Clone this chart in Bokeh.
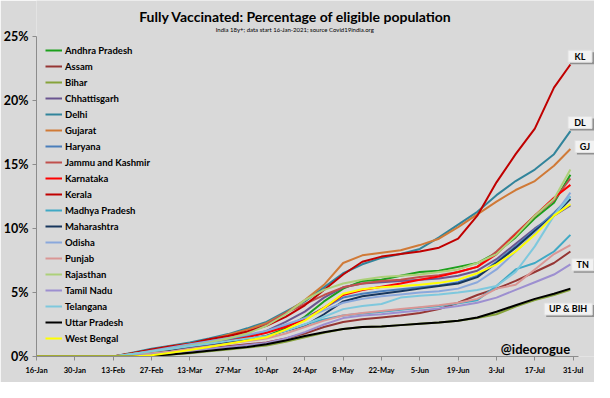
from bokeh.plotting import figure
from bokeh.models import Range1d, FixedTicker, Label
from bokeh.embed import file_html
from bokeh.resources import INLINE

# days since 16-Jan-2021
days = [0, 28, 35, 42, 49, 56, 63, 70, 77, 84, 91, 98, 105, 112, 119, 126,
        133, 140, 147, 154, 161, 168, 175, 182, 189, 195]

tick_days = [0, 14, 28, 42, 56, 70, 84, 98, 112, 126, 140, 154, 168, 182, 196]
tick_labels = ["16-Jan", "30-Jan", "13-Feb", "27-Feb", "13-Mar", "27-Mar", "10-Apr",
               "24-Apr", "8-May", "22-May", "5-Jun", "19-Jun", "3-Jul", "17-Jul", "31-Jul"]

y_ticks = [0, 5, 10, 15, 20, 25]
y_labels = ["0%", "5%", "10%", "15%", "20%", "25%"]

andhra = [0, 0, 0.1, 0.3, 0.5, 0.7, 0.9, 1.1, 1.35, 1.6, 2.2, 3.1, 4.3, 5.3, 5.9, 6.0, 6.3, 6.6, 6.7, 7.0, 7.3, 8.1, 9.3, 10.8, 12.0, 14.2]
assam = [0, 0, 0.1, 0.2, 0.35, 0.5, 0.65, 0.8, 0.95, 1.1, 1.4, 1.8, 2.3, 2.7, 2.9, 3.05, 3.2, 3.4, 3.7, 4.2, 4.8, 5.3, 5.9, 6.6, 7.3, 8.2]
bihar = [0, 0, 0.0, 0.05, 0.15, 0.25, 0.4, 0.55, 0.7, 0.85, 1.15, 1.5, 1.85, 2.15, 2.3, 2.35, 2.45, 2.55, 2.65, 2.8, 3.0, 3.3, 3.9, 4.4, 4.8, 5.2]
chhattisgarh = [0, 0, 0.1, 0.3, 0.5, 0.7, 0.95, 1.2, 1.55, 2.0, 2.7, 3.5, 4.6, 5.4, 5.7, 5.8, 5.9, 6.0, 6.1, 6.3, 6.7, 7.6, 8.8, 10.0, 11.0, 11.8]
delhi = [0, 0, 0.3, 0.6, 0.85, 1.1, 1.4, 1.75, 2.2, 2.7, 3.5, 4.3, 5.4, 6.5, 7.2, 7.7, 8.0, 8.4, 9.3, 10.3, 11.3, 12.6, 13.7, 14.6, 15.8, 17.6]
gujarat = [0, 0, 0.25, 0.5, 0.8, 1.0, 1.3, 1.7, 2.1, 2.6, 3.4, 4.4, 5.6, 7.3, 7.9, 8.1, 8.3, 8.7, 9.2, 10.1, 11.1, 12.1, 13.0, 13.7, 14.9, 16.2]
haryana = [0, 0, 0.15, 0.35, 0.55, 0.8, 1.0, 1.3, 1.6, 1.9, 2.4, 3.0, 3.8, 4.6, 4.9, 5.1, 5.25, 5.4, 5.55, 5.8, 6.3, 7.4, 8.6, 9.9, 11.2, 12.5]
jammu_kashmir = [0, 0, 0.2, 0.45, 0.7, 0.95, 1.2, 1.5, 1.9, 2.5, 3.4, 4.1, 4.8, 5.4, 5.7, 5.9, 6.0, 6.2, 6.35, 6.6, 7.0, 8.2, 9.6, 11.0, 12.2, 13.9]
karnataka = [0, 0, 0.15, 0.35, 0.55, 0.75, 0.95, 1.2, 1.5, 1.85, 2.3, 2.9, 3.8, 4.8, 5.2, 5.45, 5.7, 6.0, 6.25, 6.6, 7.0, 8.0, 9.5, 11.0, 12.4, 13.4]
kerala = [0, 0, 0.25, 0.55, 0.8, 1.0, 1.35, 1.6, 1.95, 2.4, 3.1, 4.0, 5.2, 6.4, 7.4, 7.8, 8.0, 8.2, 8.5, 9.2, 11.0, 13.6, 15.8, 17.8, 21.0, 22.8]
madhya_pradesh = [0, 0, 0.15, 0.35, 0.55, 0.75, 0.95, 1.15, 1.35, 1.55, 2.0, 2.5, 2.9, 3.2, 3.35, 3.5, 3.65, 3.8, 3.95, 4.15, 4.4, 5.5, 6.8, 7.3, 8.2, 9.5]
maharashtra = [0, 0, 0.1, 0.3, 0.5, 0.7, 0.9, 1.1, 1.35, 1.6, 2.0, 2.4, 3.3, 4.3, 4.7, 4.9, 5.1, 5.3, 5.5, 5.7, 6.2, 7.3, 8.5, 9.8, 11.0, 12.3]
odisha = [0, 0, 0.2, 0.45, 0.7, 0.95, 1.2, 1.45, 1.7, 2.0, 2.5, 3.0, 3.6, 4.2, 4.5, 4.7, 4.85, 5.0, 5.1, 5.3, 5.8, 6.8, 8.2, 9.6, 11.0, 12.8]
punjab = [0, 0, 0.1, 0.25, 0.4, 0.6, 0.8, 1.0, 1.2, 1.4, 1.8, 2.3, 2.8, 3.2, 3.4, 3.55, 3.7, 3.85, 4.0, 4.2, 4.5, 5.3, 5.6, 6.8, 8.0, 8.7]
rajasthan = [0, 0, 0.2, 0.4, 0.6, 0.85, 1.1, 1.4, 1.8, 2.4, 3.3, 4.4, 5.2, 5.7, 6.0, 6.2, 6.3, 6.4, 6.6, 6.8, 7.3, 8.0, 9.4, 11.0, 12.3, 14.6]
tamil_nadu = [0, 0, 0.05, 0.15, 0.3, 0.45, 0.6, 0.75, 0.9, 1.05, 1.4, 1.9, 2.5, 3.0, 3.2, 3.3, 3.45, 3.6, 3.75, 3.95, 4.2, 4.6, 5.2, 5.8, 6.4, 7.2]
telangana = [0, 0, 0.2, 0.4, 0.6, 0.8, 1.0, 1.2, 1.4, 1.6, 2.0, 2.5, 3.1, 3.7, 3.95, 4.1, 4.6, 4.75, 4.85, 5.0, 5.2, 5.5, 6.6, 8.6, 11.0, 12.5]
uttar_pradesh = [0, 0, 0.0, 0.05, 0.15, 0.3, 0.45, 0.6, 0.75, 0.95, 1.25, 1.6, 1.9, 2.15, 2.3, 2.35, 2.45, 2.55, 2.65, 2.8, 3.05, 3.5, 4.0, 4.5, 4.9, 5.3]
west_bengal = [0, 0, 0.0, 0.1, 0.3, 0.5, 0.75, 1.0, 1.25, 1.5, 2.1, 2.8, 3.8, 4.9, 5.25, 5.4, 5.5, 5.6, 5.75, 6.0, 6.5, 7.2, 8.2, 9.5, 11.0, 11.9]

states = ["Andhra Pradesh", "Assam", "Bihar", "Chhattisgarh", "Delhi", "Gujarat", "Haryana",
          "Jammu and Kashmir", "Karnataka", "Kerala", "Madhya Pradesh", "Maharashtra", "Odisha",
          "Punjab", "Rajasthan", "Tamil Nadu", "Telangana", "Uttar Pradesh", "West Bengal"]
series = [andhra, assam, bihar, chhattisgarh, delhi, gujarat, haryana, jammu_kashmir, karnataka,
          kerala, madhya_pradesh, maharashtra, odisha, punjab, rajasthan, tamil_nadu, telangana,
          uttar_pradesh, west_bengal]
colors = ["#1ca01c", "#963634", "#86a33a", "#6a5590", "#31849b", "#d07a37", "#4a7ebb",
          "#c0504d", "#ff0000", "#c00000", "#40a9c5", "#17365d", "#8aa8dc", "#da9694",
          "#add07a", "#9d8fd0", "#7ec8dd", "#000000", "#ffff00"]

end_labels = ["KL", "DL", "GJ", "TN", "UP & BIH"]
end_label_x = [198.5, 198.5, 200.3, 199.5, 194.2]
end_label_y = [23.45, 18.27, 16.4, 7.16, 3.71]
end_label_w = [24, 24, 20, 22, 48]

FONT = "Lato"
BG = "#d9d9d9"
PX_PER_DAY = 558 / 203.8
PX_PER_PCT = 355.6 / 27.8

p = figure(width=594, height=382, output_backend="svg", toolbar_location=None,
           x_range=Range1d(0, 203.8), y_range=Range1d(0, 27.8),
           min_border_left=36, min_border_right=0, min_border_top=0, min_border_bottom=26)
p.background_fill_color = BG
p.border_fill_color = BG
p.outline_line_color = None
p.grid.visible = False

for name, vals, c in zip(states, series, colors):
    p.line(days, vals, line_color=c, line_width=2, legend_label=name)

# axes
xa = p.xaxis[0]
xa.ticker = FixedTicker(ticks=tick_days)
xa.major_label_overrides = {d: l for d, l in zip(tick_days, tick_labels)}
xa.major_label_text_font = FONT
xa.major_label_text_font_style = "bold"
xa.major_label_text_font_size = "7.5px"
xa.major_label_text_color = "#000000"
xa.major_label_standoff = 5
xa.axis_line_color = "#8c8c8c"
xa.major_tick_line_color = "#8c8c8c"
xa.major_tick_out = 4
xa.major_tick_in = 0
xa.minor_tick_line_color = None
xa.bounds = (0, 198)

ya = p.yaxis[0]
ya.ticker = FixedTicker(ticks=y_ticks)
ya.major_label_overrides = {t: l for t, l in zip(y_ticks, y_labels)}
ya.major_label_text_font = FONT
ya.major_label_text_font_style = "bold"
ya.major_label_text_font_size = "12.5px"
ya.major_label_text_color = "#000000"
ya.major_label_standoff = 4
ya.axis_line_color = "#8c8c8c"
ya.major_tick_line_color = "#8c8c8c"
ya.major_tick_out = 4
ya.major_tick_in = 0
ya.minor_tick_line_color = None
ya.bounds = (0, 25)

# legend
lg = p.legend[0]
lg.location = (9, 10)
lg.background_fill_alpha = 0
lg.border_line_alpha = 0
lg.padding = 0
lg.margin = 0
lg.spacing = 0
lg.glyph_width = 17
lg.glyph_height = 16
lg.label_height = 16
lg.label_standoff = 3
lg.label_text_font = FONT
lg.label_text_font_style = "bold"
lg.label_text_font_size = "9.5px"
lg.label_text_color = "#000000"

# titles
p.add_layout(Label(x=94.6, y=26.53, text="Fully Vaccinated: Percentage of eligible population",
                   text_align="center", text_baseline="middle", text_font=FONT,
                   text_font_style="bold", text_font_size="14px", text_color="#000000"))
p.add_layout(Label(x=94.6, y=25.55, text="India 18y+; data  start 16-Jan-2021; source Covid19india.org",
                   text_align="center", text_baseline="middle", text_font=FONT,
                   text_font_size="6px", text_color="#000000"))

# end-of-line label boxes (shadow + box) and texts
shadow_x = [x + 2 / PX_PER_DAY for x in end_label_x]
shadow_y = [y - 2 / PX_PER_PCT for y in end_label_y]
p.rect(shadow_x, shadow_y, width=end_label_w, height=12, width_units="screen",
       height_units="screen", fill_color="#8f8f8f", line_color=None)
p.rect(end_label_x, end_label_y, width=end_label_w, height=12, width_units="screen",
       height_units="screen", fill_color="#f2f2f2", line_color="#e0e0e0")
for t, x, y in zip(end_labels, end_label_x, end_label_y):
    p.add_layout(Label(x=x, y=y, text=t, text_align="center", text_baseline="middle",
                       text_font=FONT, text_font_style="bold", text_font_size="9px",
                       text_color="#000000"))

p.add_layout(Label(x=194.9, y=0.6, text="@ideorogue", text_align="right", text_baseline="middle",
                   text_font=FONT, text_font_style="bold", text_font_size="13px",
                   text_color="#000000"))

open("out.html", "w").write(file_html(p, INLINE))
